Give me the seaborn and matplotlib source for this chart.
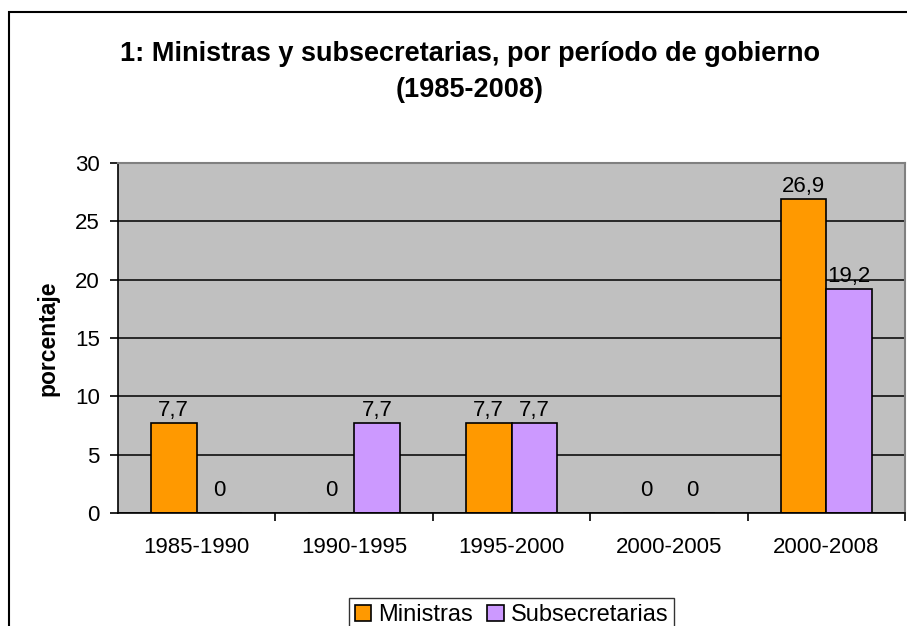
import pandas as pd
import seaborn as sns
import matplotlib.pyplot as plt
from matplotlib.patches import Rectangle

periodos = ['1985-1990', '1990-1995', '1995-2000', '2000-2005', '2000-2008']
ministras = [7.7, 0, 7.7, 0, 26.9]
subsecretarias = [0, 7.7, 7.7, 0, 19.2]
series = ['Ministras', 'Subsecretarias']
colores = ['#FF9900', '#CC99FF']

df = pd.DataFrame({
    'Periodo': periodos * 2,
    'Serie': [series[0]] * len(periodos) + [series[1]] * len(periodos),
    'Valor': ministras + subsecretarias,
})

sns.set_theme(style='white')
plt.rcParams['font.family'] = ['Liberation Sans', 'DejaVu Sans']
plt.rcParams['text.color'] = 'black'
plt.rcParams['xtick.color'] = 'black'
plt.rcParams['ytick.color'] = 'black'
plt.rcParams['axes.labelcolor'] = 'black'

fs = 16

fig = plt.figure(figsize=(9.07, 6.26), dpi=100)
ax = fig.add_axes([0.130, 0.1805, 0.868, 0.559])

sns.barplot(data=df, x='Periodo', y='Valor', hue='Serie', palette=colores,
            width=0.58, edgecolor='black', linewidth=1.2, saturation=1,
            dodge=True, ax=ax, legend=True)

ax.set_facecolor('#C0C0C0')
ax.set_ylim(0, 30)
ax.set_xlim(-0.5, len(periodos) - 0.5)
ax.set_yticks(range(0, 31, 5))
ax.yaxis.grid(True, color='black', linewidth=1.1)
ax.set_axisbelow(True)
for s in ['top', 'right']:
    ax.spines[s].set_color('#808080')
    ax.spines[s].set_linewidth(1.5)
for s in ['left', 'bottom']:
    ax.spines[s].set_color('black')
    ax.spines[s].set_linewidth(1.2)

# ticks de categoria en los bordes
ax.set_xticks([i + 0.5 for i in range(len(periodos))], minor=True)
ax.tick_params(axis='x', which='minor', length=6, width=1.2, color='black', bottom=True)
ax.tick_params(axis='x', which='major', length=0, pad=17, labelsize=fs)
ax.tick_params(axis='y', length=6, width=1.2, color='black', left=True, labelsize=fs, pad=7)

ax.set_xlabel('')
ax.set_ylabel('porcentaje', fontsize=16.5, fontweight='bold', labelpad=11)

# etiquetas de datos
for cont in ax.containers:
    for bar in cont:
        h = bar.get_height()
        txt = f'{h:g}'.replace('.', ',')
        ax.annotate(txt, (bar.get_x() + bar.get_width() / 2, h),
                    xytext=(0, 9 if h == 0 else 1.5), textcoords='offset points',
                    ha='center', va='bottom', fontsize=fs, color='black')

leg = ax.legend(loc='upper center', bbox_to_anchor=(0.5, -0.21), ncol=2,
                frameon=True, fancybox=False, edgecolor='black', fontsize=17,
                handlelength=0.7, handleheight=0.7, handletextpad=0.3,
                columnspacing=0.6, borderpad=0.25)
leg.get_frame().set_linewidth(1.0)

fig.text(0.518, 0.914, '1: Ministras y subsecretarias, por período de gobierno',
         ha='center', va='center', fontsize=19.5, fontweight='bold')
fig.text(0.518, 0.857, '(1985-2008)', ha='center', va='center',
         fontsize=19.5, fontweight='bold')

# borde exterior del grafico
fig.patches.append(Rectangle((9 / 907, -0.01), 1.0, 1 - 12 / 626 + 0.01,
                             transform=fig.transFigure, fill=False,
                             edgecolor='black', linewidth=1.5))

fig.savefig('out.png', dpi=100)
